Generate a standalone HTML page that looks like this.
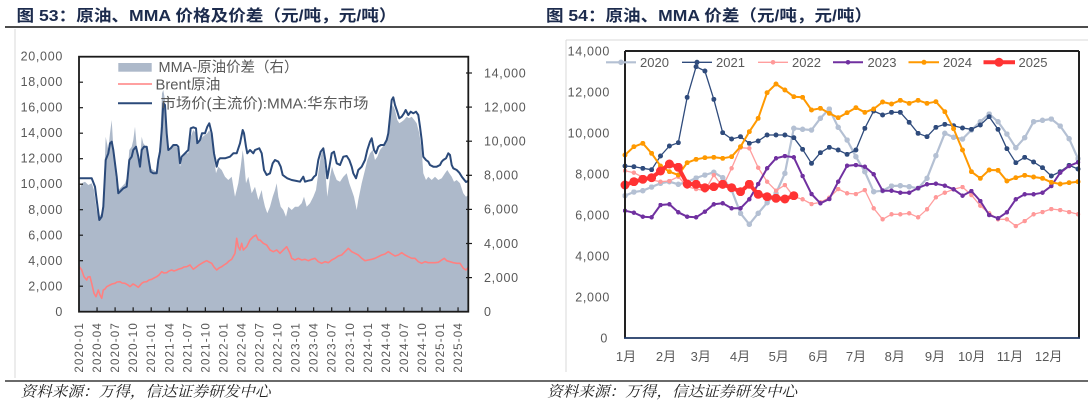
<!DOCTYPE html>
<html><head><meta charset="utf-8">
<style>
html,body{margin:0;padding:0;background:#fff;width:1088px;height:406px;overflow:hidden}
svg{display:block}
.ax{font-size:12.5px;letter-spacing:0.7px;fill:#595959}
.xl{font-size:11.5px;letter-spacing:1.2px;fill:#595959}
.lg{font-size:14.5px;fill:#595959}
.ttl{font-size:16px;font-weight:bold;fill:#1c2b4d}
.ft{font-size:15px;font-style:italic;fill:#222;font-family:"Liberation Serif","Noto Serif CJK SC",serif}
</style></head>
<body>
<svg width="1088" height="406" viewBox="0 0 1088 406" xmlns="http://www.w3.org/2000/svg" font-family="'Liberation Sans','Noto Sans CJK SC',sans-serif">
<defs>
<marker id="m20" viewBox="0 0 10 10" refX="5" refY="5" markerWidth="5.5" markerHeight="5.5" markerUnits="userSpaceOnUse"><circle cx="5" cy="5" r="5" fill="#B4C0D3"/></marker>
<marker id="m21" viewBox="0 0 10 10" refX="5" refY="5" markerWidth="5" markerHeight="5" markerUnits="userSpaceOnUse"><circle cx="5" cy="5" r="5" fill="#2F4B7C"/></marker>
<marker id="m22" viewBox="0 0 10 10" refX="5" refY="5" markerWidth="4.5" markerHeight="4.5" markerUnits="userSpaceOnUse"><circle cx="5" cy="5" r="5" fill="#FF9999"/></marker>
<marker id="m23" viewBox="0 0 10 10" refX="5" refY="5" markerWidth="4.5" markerHeight="4.5" markerUnits="userSpaceOnUse"><circle cx="5" cy="5" r="5" fill="#7030A0"/></marker>
<marker id="m24" viewBox="0 0 10 10" refX="5" refY="5" markerWidth="5" markerHeight="5" markerUnits="userSpaceOnUse"><circle cx="5" cy="5" r="5" fill="#FF9900"/></marker>
<marker id="m25" viewBox="0 0 10 10" refX="5" refY="5" markerWidth="9" markerHeight="9" markerUnits="userSpaceOnUse"><circle cx="5" cy="5" r="5" fill="#FF3333"/></marker>
<clipPath id="lc"><rect x="79" y="56.7" width="389.3" height="255"/></clipPath>
</defs>

<!-- Titles -->
<text class="ttl" x="16.5" y="21" textLength="380" lengthAdjust="spacingAndGlyphs">图 53：原油、MMA 价格及价差（元/吨，元/吨）</text>
<text class="ttl" x="546" y="21" textLength="326" lengthAdjust="spacingAndGlyphs">图 54：原油、MMA 价差（元/吨，元/吨）</text>
<line x1="5" y1="27" x2="1088" y2="27" stroke="#111" stroke-width="1.5"/>

<!-- chart borders -->
<line x1="15" y1="29" x2="15" y2="378" stroke="#D9D9D9" stroke-width="1"/>
<line x1="566" y1="40" x2="566" y2="372" stroke="#D9D9D9" stroke-width="1"/>
<line x1="566" y1="40" x2="1088" y2="40" stroke="#D9D9D9" stroke-width="1"/>

<!-- ============ LEFT CHART ============ -->
<g clip-path="url(#lc)">
<polygon fill="#ADB9CA" points="79,311.7 79.3,190 81.7,183.3 85,181.7 88.3,185 91.7,183.3 94,190 96.7,210 99.3,216.7 101.7,213.3 103.3,200 105.7,136.7 108.3,150 110,133.3 111.7,120 113.3,146.7 115.7,176.7 118.3,190 121.7,186.7 125,183.3 127.3,176.7 129.3,150 131.7,146.7 133.3,140 135,126.7 136.7,146.7 138.3,156.7 140,160 141.7,136.7 143.3,143.3 146,146.7 148.3,156.7 150,168.3 153.3,170 156.7,171.7 158.3,156.7 160,143.3 162,93.3 163.3,90 165,100 166.7,133.3 168.3,146.7 170.7,150 173.3,145 176.7,146.7 178.3,150 180,166.7 181.7,160 185,153.3 188.3,153.3 190.7,136.7 193.3,130 196,133.3 197.3,145 200,140 202.7,136.7 205,135 207.3,133.3 209.3,130 211.7,136.7 214,156.7 216,173.3 218.3,166.7 221.7,170 225,176.7 228.3,180 231.7,176.7 235,196.7 238.3,183.3 240.7,166.7 242.7,150 244,160 246,183.3 248.3,176.7 251.7,193.3 255,186.7 258.3,200 261.7,190 262.7,196.7 265,206.7 267.3,213.3 270,206.7 272.7,196.7 275,190 276.7,183.3 278.3,196.7 280.7,206.7 283.3,210 286,216.7 288.3,206.7 291.7,210 295,206.7 298.3,206.7 301.7,203.3 304,196.7 306.7,206.7 310,203.3 313.3,196.7 316,190 318.3,173.3 320.7,156.7 322.7,150 325,166.7 327.3,196.7 330,176.7 332,166.7 334,173.3 336.7,180 340,181.7 343.3,176.7 346.7,173.3 349.3,183.3 351.7,190 354,196.7 356.7,210 358.3,200 361.7,183.3 365,170 367.3,160 370,153.3 372.7,150 375,160 377.3,156.7 380,150 382.7,146.7 385,143.3 387.3,140 389.3,130 391,110 392.7,105 395,110 397.3,120 399.3,123.3 401.7,121.7 404,120 406.7,116.7 409,118.3 411.7,116.7 414.3,120 416.7,123.3 419.3,133.3 421.7,150 423.3,173.3 426,180 428.3,176.7 431.7,180 435,176.7 438.3,180 441.7,178.3 445,173.3 447.3,170 449.3,173.3 451.7,176.7 454,181.7 456.7,180 460,183.3 463.3,193.3 466,196.7 468.3,195 468.3,311.7"/>
<polyline fill="none" stroke="#FF8080" stroke-width="1.6" stroke-linejoin="round" points="79.3,266.7 81.7,270 84,276.7 86.7,280 88,277 90,276.7 91.7,283.3 94,293.3 96,296.7 98.3,290 100,295 101.7,298.3 103.3,290 105,289 106.7,286.7 110,285 112,284 115,283.3 117,282 120,281.7 122,283 125,283.3 128,285 130,286.7 133,284 135,285 138.3,287.3 141.7,283.3 144,282 146.7,281.7 149,280 151.7,279.3 154,278 156.7,276.7 159,275 161.7,271.7 164,273 166.7,272.7 169,271 171.7,270 174,271 176.7,270 179,269 181.7,268.3 184,267 186.7,266.7 190,265 193.3,269.3 196.7,266.7 199,265 201.7,263.3 204,262 206.7,260.7 209,262 211.7,263.3 214,267 216.7,270 219,268 221.7,266.7 224,265 226.7,263.3 229,261 231.7,259.3 235,253.3 236.7,238.3 238.3,246.7 240,250 241.7,243.3 243.3,250 246.7,246.7 250,240 253.3,236.7 256,235 258.3,240 260,240 263.3,243.3 266.7,245 270,250 273.3,251.7 276.7,250 280,253.3 283.3,250 286.7,246.7 290,253.3 291.7,258.3 295,260 298.3,258.3 301.7,260 305,259.3 308.3,260.7 311.7,259.3 315,258.3 318.3,261.7 321.7,263.3 325,261.7 328.3,262.7 331.7,260 335,258.3 338.3,256 341.7,255 345,251.7 348.3,248.3 351.7,251.7 355,253.3 358.3,255 361.7,258.3 365,260.7 368.3,260 371.7,259.3 375,258.3 378.3,256.7 381.7,255 385,254 388.3,251.7 391.7,254 395,256 398.3,255 401.7,252.7 405,255 408.3,256.7 411.7,258.3 415,258.3 418.3,261.7 421.7,263.3 425,261.7 428.3,262.7 431.7,262.7 435,262.7 438.3,262.3 441.7,260 444.3,258.3 446.7,260.7 450,261.7 453.3,262.7 456.7,263.3 460,263.3 463.3,268.3 466,270 468.3,267.3"/>
<polyline fill="none" stroke="#2B4A7A" stroke-width="2" stroke-linejoin="round" points="79.3,178.3 91.7,178.3 95,186.7 96.7,200 99.3,220 101.7,216.7 103.3,206.7 105.7,160 108.3,153.3 110,143.3 111.7,141.7 113.3,150 116.7,176.7 118.3,193.3 120,191.7 123.3,188.3 126.7,186.7 129.3,160 131.7,156.7 133.3,150 136,146.7 138.3,156.7 140,166.7 141.7,150 144,146.7 146.7,146.7 149.3,163.3 150.7,171.7 153.3,173.3 156.7,173.3 158.3,160 160,151.7 162,126.7 163.3,103.3 165,105 166.7,133.3 168.3,150 170.7,148.3 173.3,145 176.7,145 178.3,146.7 180,163.3 181.7,156.7 185,153.3 188.3,150 190.7,128.3 193.3,127.3 196,128.3 197.3,143.3 200,140 202,133.3 205,133.3 207.3,126.7 209.3,123.3 211.7,133.3 214,153.3 216.7,166.7 218.3,160 220,158.3 225,158.3 230,156.7 233.3,153.3 236.7,153.3 240,143.3 242.7,130 244,133.3 246,146.7 247.3,153.3 250,150 253.3,153.3 255,150 259.3,148.3 261.7,153.3 264,170 266.7,175 270,173.3 272.7,163.3 275,160 278.3,161.7 280.7,166.7 282.7,175 285,176.7 287.3,178.3 291.7,180 296.7,181 300,181.7 303.3,176.7 305,181.7 308.3,180.7 311.7,180 314,176.7 316,175 318.3,160 320.7,151.7 323.3,148.3 325.3,160 327.3,178.3 330,163.3 331.7,153.3 334,151.7 336.7,163.3 340,165 343.3,156.7 346.7,156 349.3,160 351.7,166.7 353.3,173.3 356,178.3 358.3,170 361.7,166.7 365,160 367.3,150 370,141.7 371.7,138.3 374,150 376,153.3 378.3,146.7 380.7,145 384,145 386.7,140 388.3,133.3 390,116.7 391.7,100 393.3,97.3 395,105 397.3,111.7 399.3,118.3 401.7,116.7 404,113.3 405.7,110 408.3,115 410.7,111.7 413.3,113.3 416,111.7 418.3,115 420,126.7 421.7,140 423.3,156.7 426,160 428.3,161.7 430,165 433.3,166.7 436.7,166.7 440,165 441.7,161.7 443.3,160 446,158.3 448.3,153.3 450,155 451.7,165 453.3,168.3 456.7,170 459.3,172.7 462,177 466,182 468,181"/>
</g>
<rect x="79" y="56.7" width="389.3" height="255" fill="none" stroke="#1a1a1a" stroke-width="1.8"/>
<!-- left ticks -->
<g stroke="#1a1a1a" stroke-width="1.2">
<line x1="79" y1="286.2" x2="83" y2="286.2"/><line x1="79" y1="260.7" x2="83" y2="260.7"/><line x1="79" y1="235.2" x2="83" y2="235.2"/><line x1="79" y1="209.7" x2="83" y2="209.7"/><line x1="79" y1="184.2" x2="83" y2="184.2"/><line x1="79" y1="158.7" x2="83" y2="158.7"/><line x1="79" y1="133.2" x2="83" y2="133.2"/><line x1="79" y1="107.7" x2="83" y2="107.7"/><line x1="79" y1="82.2" x2="83" y2="82.2"/>
<line x1="466" y1="277.6" x2="472" y2="277.6"/><line x1="466" y1="243.5" x2="472" y2="243.5"/><line x1="466" y1="209.4" x2="472" y2="209.4"/><line x1="466" y1="175.3" x2="472" y2="175.3"/><line x1="466" y1="141.2" x2="472" y2="141.2"/><line x1="466" y1="107.1" x2="472" y2="107.1"/><line x1="466" y1="73" x2="472" y2="73"/>
<line x1="97.05" y1="311.7" x2="97.05" y2="307.3"/><line x1="115.1" y1="311.7" x2="115.1" y2="307.3"/><line x1="133.15" y1="311.7" x2="133.15" y2="307.3"/><line x1="151.2" y1="311.7" x2="151.2" y2="307.3"/><line x1="169.25" y1="311.7" x2="169.25" y2="307.3"/><line x1="187.3" y1="311.7" x2="187.3" y2="307.3"/><line x1="205.35" y1="311.7" x2="205.35" y2="307.3"/><line x1="223.4" y1="311.7" x2="223.4" y2="307.3"/><line x1="241.45" y1="311.7" x2="241.45" y2="307.3"/><line x1="259.5" y1="311.7" x2="259.5" y2="307.3"/><line x1="277.55" y1="311.7" x2="277.55" y2="307.3"/><line x1="295.6" y1="311.7" x2="295.6" y2="307.3"/><line x1="313.65" y1="311.7" x2="313.65" y2="307.3"/><line x1="331.7" y1="311.7" x2="331.7" y2="307.3"/><line x1="349.75" y1="311.7" x2="349.75" y2="307.3"/><line x1="367.8" y1="311.7" x2="367.8" y2="307.3"/><line x1="385.85" y1="311.7" x2="385.85" y2="307.3"/><line x1="403.9" y1="311.7" x2="403.9" y2="307.3"/><line x1="421.95" y1="311.7" x2="421.95" y2="307.3"/><line x1="440" y1="311.7" x2="440" y2="307.3"/><line x1="458.05" y1="311.7" x2="458.05" y2="307.3"/>
</g>
<!-- left y labels -->
<g class="ax" text-anchor="end">
<text x="63" y="60.5">20,000</text><text x="63" y="86">18,000</text><text x="63" y="111.6">16,000</text><text x="63" y="137.1">14,000</text><text x="63" y="162.7">12,000</text><text x="63" y="188.2">10,000</text><text x="63" y="213.8">8,000</text><text x="63" y="239.3">6,000</text><text x="63" y="264.9">4,000</text><text x="63" y="290.5">2,000</text><text x="63" y="316">0</text>
</g>
<g class="ax">
<text x="484" y="77.3">14,000</text><text x="484" y="111.4">12,000</text><text x="484" y="145.5">10,000</text><text x="484" y="179.6">8,000</text><text x="484" y="213.7">6,000</text><text x="484" y="247.8">4,000</text><text x="484" y="281.9">2,000</text><text x="484" y="316">0</text>
</g>
<!-- left x labels -->
<g class="xl" text-anchor="end">
<text transform="translate(83,322) rotate(-90)">2020-01</text>
<text transform="translate(101.05,322) rotate(-90)">2020-04</text>
<text transform="translate(119.1,322) rotate(-90)">2020-07</text>
<text transform="translate(137.15,322) rotate(-90)">2020-10</text>
<text transform="translate(155.2,322) rotate(-90)">2021-01</text>
<text transform="translate(173.25,322) rotate(-90)">2021-04</text>
<text transform="translate(191.3,322) rotate(-90)">2021-07</text>
<text transform="translate(209.35,322) rotate(-90)">2021-10</text>
<text transform="translate(227.4,322) rotate(-90)">2022-01</text>
<text transform="translate(245.45,322) rotate(-90)">2022-04</text>
<text transform="translate(263.5,322) rotate(-90)">2022-07</text>
<text transform="translate(281.55,322) rotate(-90)">2022-10</text>
<text transform="translate(299.6,322) rotate(-90)">2023-01</text>
<text transform="translate(317.65,322) rotate(-90)">2023-04</text>
<text transform="translate(335.7,322) rotate(-90)">2023-07</text>
<text transform="translate(353.75,322) rotate(-90)">2023-10</text>
<text transform="translate(371.8,322) rotate(-90)">2024-01</text>
<text transform="translate(389.85,322) rotate(-90)">2024-04</text>
<text transform="translate(407.9,322) rotate(-90)">2024-07</text>
<text transform="translate(425.95,322) rotate(-90)">2024-10</text>
<text transform="translate(444,322) rotate(-90)">2025-01</text>
<text transform="translate(462.05,322) rotate(-90)">2025-04</text>
</g>
<!-- left legend -->
<rect x="118.3" y="63" width="33.4" height="8.7" fill="#ADB9CA"/>
<text class="lg" x="158.5" y="72" textLength="140" lengthAdjust="spacingAndGlyphs">MMA-原油价差（右）</text>
<line x1="118" y1="84" x2="152" y2="84" stroke="#FF8080" stroke-width="1.6"/>
<text class="lg" x="155.5" y="89.3" textLength="65" lengthAdjust="spacingAndGlyphs">Brent原油</text>
<line x1="118" y1="103.3" x2="152" y2="103.3" stroke="#2B4A7A" stroke-width="2"/>
<text class="lg" x="160.5" y="108.6" textLength="208" lengthAdjust="spacingAndGlyphs">市场价(主流价):MMA:华东市场</text>

<!-- ============ RIGHT CHART ============ -->
<g class="ax" text-anchor="end">
<text x="610" y="55.5">14,000</text><text x="610" y="96.5">12,000</text><text x="610" y="137.5">10,000</text><text x="610" y="178.5">8,000</text><text x="610" y="219.5">6,000</text><text x="610" y="260.5">4,000</text><text x="610" y="301.5">2,000</text><text x="608" y="342.5">0</text>
</g>
<g font-size="13" fill="#595959" text-anchor="middle">
<text x="626" y="361">1月</text><text x="666" y="361">2月</text><text x="700.8" y="361">3月</text><text x="740" y="361">4月</text><text x="778.7" y="361">5月</text><text x="818.6" y="361">6月</text><text x="856" y="361">7月</text><text x="894.8" y="361">8月</text><text x="935" y="361">9月</text><text x="971.7" y="361">10月</text><text x="1010" y="361">11月</text><text x="1048.6" y="361">12月</text>
</g>

<polyline fill="none" stroke="#B4C0D3" stroke-width="2.2" stroke-linejoin="round" marker-start="url(#m20)" marker-mid="url(#m20)" marker-end="url(#m20)" points="625,195.7 633.9,192 642.8,190.7 651.6,187 660.5,183.3 669.4,181.7 678.3,184.3 687.2,182 696.1,178 704.9,175 713.8,172.3 722.7,177.7 731.6,190 740.5,213.3 749.3,224.3 758.2,213.3 767.1,202.7 776,193.3 784.9,173.3 793.8,128.3 802.6,129.3 811.5,130 820.4,118.3 829.3,109 838.2,127.3 847.1,140 855.9,156.7 864.8,171.7 873.7,191.7 882.6,190.7 891.5,186 900.3,185.7 909.2,186.7 918.1,188.3 927,178.3 935.9,155.7 944.8,133.3 953.6,137.3 962.5,139 971.4,130 980.3,121.7 989.2,114 998,121.7 1006.9,134 1015.8,147.7 1024.7,137.7 1033.6,121.7 1042.5,120.3 1051.3,119 1060.2,126 1069.1,138.7 1078,158.7"/>
<polyline fill="none" stroke="#2F4B7C" stroke-width="1.3" stroke-linejoin="round" marker-start="url(#m21)" marker-mid="url(#m21)" marker-end="url(#m21)" points="625,166 633.9,166.7 642.8,168.3 651.6,169.7 660.5,156 669.4,146 678.3,142.7 687.2,97.3 696.1,66.7 704.9,71 713.8,99.3 722.7,132.7 731.6,139 740.5,136.7 749.3,143.3 758.2,141 767.1,135 776,135 784.9,135 793.8,137.7 802.6,149.3 811.5,163.3 820.4,152.7 829.3,147.3 838.2,150 847.1,154.3 855.9,150 864.8,128.3 873.7,111 882.6,115 891.5,112.3 900.3,112.3 909.2,122.3 918.1,133.3 927,136.7 935.9,127.3 944.8,124.3 953.6,125.7 962.5,128 971.4,129.3 980.3,125 989.2,116.7 998,129.3 1006.9,148.7 1015.8,162.7 1024.7,157.3 1033.6,162 1042.5,167.7 1051.3,176 1060.2,171.7 1069.1,165.3 1078,169"/>
<polyline fill="none" stroke="#FF9E9E" stroke-width="1.3" stroke-linejoin="round" marker-start="url(#m22)" marker-mid="url(#m22)" marker-end="url(#m22)" points="625,170.7 633.9,172.7 642.8,177.3 651.6,180 660.5,181.7 669.4,181 678.3,176.7 687.2,186.7 696.1,189 704.9,190.7 713.8,175 722.7,186.7 731.6,168.3 740.5,147.7 749.3,148.3 758.2,167.7 767.1,181.7 776,190.7 784.9,185 793.8,196.7 802.6,199.3 811.5,204 820.4,202.3 829.3,197.7 838.2,189 847.1,193.3 855.9,194 864.8,190 873.7,208.3 882.6,219.3 891.5,214.3 900.3,214.3 909.2,213.3 918.1,217.3 927,209.3 935.9,197.3 944.8,192.7 953.6,189.3 962.5,187 971.4,195 980.3,205.7 989.2,213.3 998,219.3 1006.9,219.3 1015.8,226 1024.7,221 1033.6,214.3 1042.5,212 1051.3,209 1060.2,210 1069.1,212 1078,214.3"/>
<polyline fill="none" stroke="#7030A0" stroke-width="2" stroke-linejoin="round" marker-start="url(#m23)" marker-mid="url(#m23)" marker-end="url(#m23)" points="625,210.7 633.9,212.7 642.8,216.7 651.6,217.3 660.5,205 669.4,204.3 678.3,212.3 687.2,216.7 696.1,217.3 704.9,211.7 713.8,204.3 722.7,203.3 731.6,208.3 740.5,208.3 749.3,199.3 758.2,184 767.1,168.3 776,158.3 784.9,156 793.8,157.3 802.6,176 811.5,194 820.4,203.3 829.3,199 838.2,181.7 847.1,165.7 855.9,165 864.8,166.7 873.7,174.3 882.6,190.7 891.5,190.7 900.3,192.7 909.2,192.7 918.1,188 927,184.3 935.9,183.7 944.8,185.7 953.6,189.3 962.5,195.7 971.4,191 980.3,201 989.2,215 998,218.3 1006.9,212.3 1015.8,199.3 1024.7,194.3 1033.6,194.3 1042.5,192.7 1051.3,186 1060.2,172.7 1069.1,166 1078,162.3"/>
<polyline fill="none" stroke="#FF9900" stroke-width="2" stroke-linejoin="round" marker-start="url(#m24)" marker-mid="url(#m24)" marker-end="url(#m24)" points="625,155 633.9,146.7 642.8,143.3 651.6,153.3 660.5,166 669.4,171.7 678.3,175 687.2,162.7 696.1,159.3 704.9,157.7 713.8,157.3 722.7,158.3 731.6,156.7 740.5,146.7 749.3,131.7 758.2,118.3 767.1,92.7 776,84 784.9,90 793.8,96.7 802.6,97.3 811.5,110 820.4,108.3 829.3,113.3 838.2,117.7 847.1,112.7 855.9,107.7 864.8,112.3 873.7,109 882.6,102 891.5,104 900.3,100.3 909.2,103.3 918.1,100.3 927,103.3 935.9,101.7 944.8,111.7 953.6,128.7 962.5,150 971.4,171.7 980.3,178.3 989.2,170 998,170.3 1006.9,181 1015.8,177.7 1024.7,175.3 1033.6,177 1042.5,178.3 1051.3,182.3 1060.2,184 1069.1,182.7 1078,181.7"/>
<polyline fill="none" stroke="#FF3333" stroke-width="4" stroke-linejoin="round" marker-start="url(#m25)" marker-mid="url(#m25)" marker-end="url(#m25)" points="625,185 633.9,181.7 642.8,179.3 651.6,177.7 660.5,171 669.4,164 678.3,167.3 687.2,184 696.1,184.3 704.9,187.7 713.8,186.7 722.7,184.3 731.6,187.7 740.5,191.7 749.3,184.3 758.2,194.3 767.1,196.7 776,198.3 784.9,199 793.8,195.7"/>

<!-- right frame -->
<line x1="625" y1="51" x2="1079" y2="51" stroke="#222" stroke-width="2"/>
<line x1="625" y1="51" x2="625" y2="338" stroke="#222" stroke-width="2"/>
<line x1="1079" y1="51" x2="1079" y2="338" stroke="#222" stroke-width="2"/>
<line x1="624" y1="338" x2="1080" y2="338" stroke="#1F3864" stroke-width="1.8"/>

<!-- right legend -->
<line x1="606" y1="62.3" x2="636" y2="62.3" stroke="#B4C0D3" stroke-width="2.2"/><circle cx="621" cy="62.3" r="2.8" fill="#B4C0D3"/>
<text x="640" y="67" font-size="13" fill="#595959">2020</text>
<line x1="682" y1="62.3" x2="712" y2="62.3" stroke="#2F4B7C" stroke-width="1.3"/><circle cx="697" cy="62.3" r="2.5" fill="#2F4B7C"/>
<text x="716" y="67" font-size="13" fill="#595959">2021</text>
<line x1="758" y1="62.3" x2="788" y2="62.3" stroke="#FF9E9E" stroke-width="1.3"/><circle cx="773" cy="62.3" r="2.3" fill="#FF9999"/>
<text x="792" y="67" font-size="13" fill="#595959">2022</text>
<line x1="833" y1="62.3" x2="863" y2="62.3" stroke="#7030A0" stroke-width="2"/><circle cx="848" cy="62.3" r="2.3" fill="#7030A0"/>
<text x="867.5" y="67" font-size="13" fill="#595959">2023</text>
<line x1="908.5" y1="62.3" x2="939" y2="62.3" stroke="#FF9900" stroke-width="2"/><circle cx="924" cy="62.3" r="2.5" fill="#FF9900"/>
<text x="943" y="67" font-size="13" fill="#595959">2024</text>
<line x1="983.5" y1="62.3" x2="1015" y2="62.3" stroke="#FF3333" stroke-width="4"/><circle cx="999" cy="62.3" r="4.5" fill="#FF3333"/>
<text x="1018.5" y="67" font-size="13" fill="#595959">2025</text>

<!-- footers -->
<line x1="5" y1="381" x2="1088" y2="381" stroke="#111" stroke-width="1.3"/>
<text class="ft" x="20.5" y="396.5" textLength="250" lengthAdjust="spacingAndGlyphs">资料来源：万得，信达证券研发中心</text>
<text class="ft" x="547" y="396.5" textLength="250" lengthAdjust="spacingAndGlyphs">资料来源：万得，信达证券研发中心</text>
</svg>
</body></html>
